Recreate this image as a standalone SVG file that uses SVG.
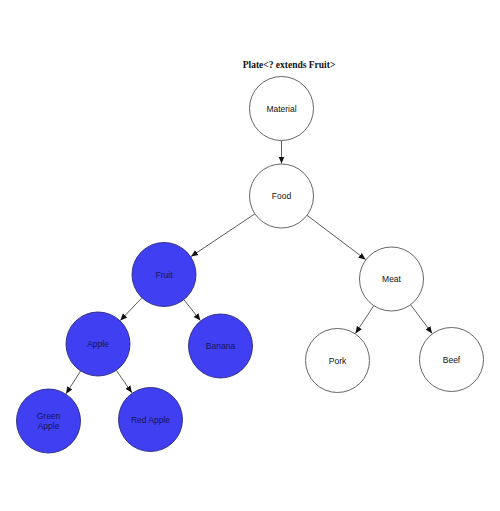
<svg xmlns="http://www.w3.org/2000/svg" width="500" height="511" viewBox="0 0 500 511">
<style>
.n{fill:#ffffff;stroke:#555555;stroke-width:0.9}
.b{fill:#4040f2;stroke:#2a2a80;stroke-width:0.9}
.t{font-family:"Liberation Sans",Arial,sans-serif;font-size:8.5px;fill:#111111;text-anchor:middle}
.tb{font-family:"Liberation Sans",Arial,sans-serif;font-size:8.5px;fill:#14145a;text-anchor:middle}
.c line{stroke:#333333;stroke-width:0.8;marker-end:url(#ar)}
</style>
<defs>
<marker id="ar" markerUnits="userSpaceOnUse" markerWidth="8" markerHeight="8" viewBox="0 0 8 8" refX="7" refY="4" orient="auto">
<path d="M0,1 L7,4 L0,7 Z" fill="#111111"/>
</marker>
</defs>
<rect width="500" height="511" fill="#ffffff"/>
<text x="289" y="68" font-family="'Liberation Serif','Times New Roman',serif" font-size="9.5" font-weight="bold" fill="#111111" text-anchor="middle">Plate&lt;? extends Fruit&gt;</text>
<g class="c" id="connectors">
<line x1="281.5" y1="141" x2="281.5" y2="163.5"/>
<line x1="254.9" y1="213.8" x2="191" y2="256.5"/>
<line x1="307" y1="215.3" x2="365.6" y2="259.5"/>
<line x1="142" y1="297.7" x2="120.3" y2="320.5"/>
<line x1="183.8" y1="299.6" x2="200.4" y2="320.5"/>
<line x1="80.7" y1="370.9" x2="66" y2="393.7"/>
<line x1="116.3" y1="370.3" x2="131.9" y2="392.8"/>
<line x1="373.8" y1="305.7" x2="355.5" y2="333.4"/>
<line x1="410.6" y1="304.7" x2="432.1" y2="333.4"/>
</g>
<g id="material"><circle class="n" cx="281.5" cy="108.5" r="32"/><text class="t" x="281.5" y="111.5">Material</text></g>
<g id="food"><circle class="n" cx="281.5" cy="196" r="32"/><text class="t" x="281.5" y="199">Food</text></g>
<g id="fruit"><circle class="b" cx="164" cy="274.5" r="32"/><text class="tb" x="164" y="277.5">Fruit</text></g>
<g id="meat"><circle class="n" cx="391.5" cy="279" r="32"/><text class="t" x="391.5" y="282">Meat</text></g>
<g id="apple"><circle class="b" cx="98" cy="344" r="32"/><text class="tb" x="98" y="347">Apple</text></g>
<g id="banana"><circle class="b" cx="220.5" cy="346" r="32"/><text class="tb" x="220.5" y="349">Banana</text></g>
<g id="pork"><circle class="n" cx="337.5" cy="360.5" r="32"/><text class="t" x="337.5" y="363.5">Pork</text></g>
<g id="beef"><circle class="n" cx="451.5" cy="359.5" r="32"/><text class="t" x="451.5" y="362.5">Beef</text></g>
<g id="green-apple"><circle class="b" cx="48.5" cy="421" r="32"/><text class="tb" x="48.5" y="419">Green</text><text class="tb" x="48.5" y="429">Apple</text></g>
<g id="red-apple"><circle class="b" cx="150.5" cy="419.5" r="32"/><text class="tb" x="150.5" y="422.5">Red Apple</text></g>
</svg>
